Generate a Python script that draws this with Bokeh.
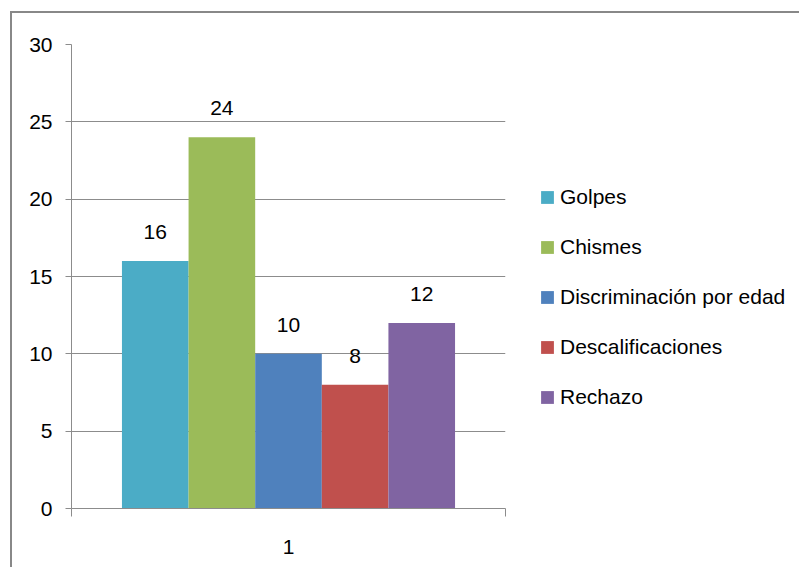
from bokeh.plotting import figure
from bokeh.models import (ColumnDataSource, Range1d, FixedTicker, LabelSet,
                          Legend, LegendItem)
from bokeh.core.properties import value
from bokeh.embed import file_html
from bokeh.resources import INLINE

# Data
categories = ["Golpes", "Chismes", "Discriminación por edad", "Descalificaciones", "Rechazo"]
values = [16, 24, 10, 8, 12]
colors = ["#4BACC6", "#9BBB59", "#4F81BD", "#C0504D", "#8064A2"]
group_label = "1"
y_ticks = [0, 5, 10, 15, 20, 25, 30]

FONT = "Liberation Sans"
FS = "21px"
AXIS_GRAY = "#8c8c8c"

p = figure(frame_width=434, frame_height=464,
           x_range=Range1d(0, 1), y_range=Range1d(0, 30),
           output_backend="svg", toolbar_location=None,
           min_border_left=59, min_border_right=0,
           min_border_top=31, min_border_bottom=59)
p.outline_line_color = None
p.background_fill_color = "white"
p.border_fill_color = "white"
# chart area border
p.margin = (11, 0, 0, 10)
p.styles = {"border-left": "2px solid #888888", "border-top": "2px solid #888888"}

# clustered bars: one group, five series side by side
n = len(values)
bar_w = 0.1535
xs = [0.5 + (i - (n - 1) / 2) * bar_w for i in range(n)]
src = ColumnDataSource(dict(x=xs, top=values, label=[str(v) for v in values]))

items = []
for i in range(n):
    r = p.vbar(x=xs[i], top=values[i], width=bar_w, bottom=0,
               fill_color=colors[i], line_color=None)
    items.append(LegendItem(label=categories[i], renderers=[r]))

labels = LabelSet(x="x", y="top", text="label", source=src,
                  y_offset=29, text_align="center", text_baseline="middle",
                  text_font=value(FONT), text_font_size=value(FS),
                  text_color="black")
p.add_layout(labels)

# y axis
p.yaxis.ticker = FixedTicker(ticks=y_ticks)
p.yaxis.axis_line_color = AXIS_GRAY
p.yaxis.major_tick_line_color = AXIS_GRAY
p.yaxis.major_tick_out = 6
p.yaxis.major_tick_in = 0
p.yaxis.minor_tick_line_color = None
p.yaxis.major_label_standoff = 13
p.yaxis.major_label_text_font = FONT
p.yaxis.major_label_text_font_size = FS
p.yaxis.major_label_text_color = "black"

# x axis: category label centred, boundary ticks at the edges
p.xaxis.ticker = FixedTicker(ticks=[0.5], minor_ticks=[0, 1])
p.xaxis.major_label_overrides = {0.5: group_label}
p.xaxis.axis_line_color = AXIS_GRAY
p.xaxis.major_tick_line_color = None
p.xaxis.major_tick_out = 0
p.xaxis.major_tick_in = 0
p.xaxis.minor_tick_line_color = AXIS_GRAY
p.xaxis.minor_tick_out = 8
p.xaxis.minor_tick_in = 0
p.xaxis.major_label_standoff = 23
p.xaxis.major_label_text_font = FONT
p.xaxis.major_label_text_font_size = FS
p.xaxis.major_label_text_color = "black"

p.xgrid.grid_line_color = None
p.ygrid.ticker = FixedTicker(ticks=y_ticks)
p.ygrid.grid_line_color = AXIS_GRAY
p.ygrid.grid_line_width = 1

legend = Legend(items=items, location=(34, 99), orientation="vertical",
                padding=0, margin=0, spacing=26,
                glyph_width=16, glyph_height=16, label_height=24,
                label_standoff=5, label_text_font=FONT,
                label_text_font_size=FS, label_text_color="black",
                border_line_color=None, background_fill_alpha=0)
p.add_layout(legend, "right")

open("out.html", "w").write(file_html(p, INLINE))
